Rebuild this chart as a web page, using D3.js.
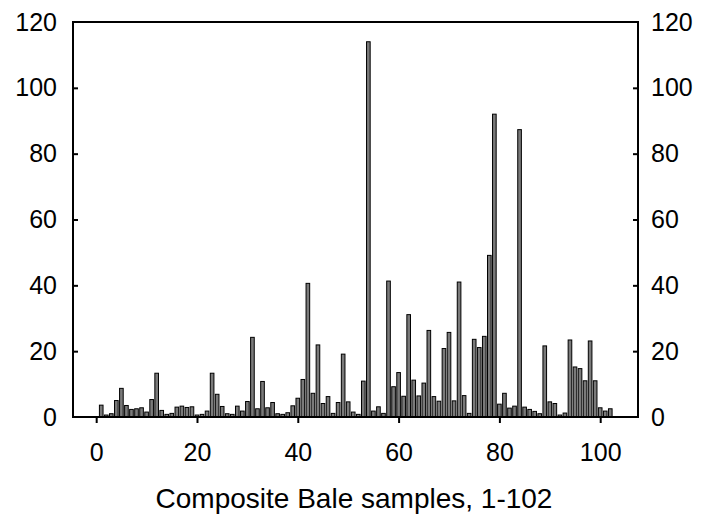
<!DOCTYPE html>
<html><head><meta charset="utf-8">
<script src="https://cdn.jsdelivr.net/npm/d3@7"></script>
<style>body{margin:0;background:#fff}svg{display:block}text{font-family:"Liberation Sans",Arial,sans-serif}</style>
</head><body>
<svg id="c" width="704" height="518"></svg>
<script>
const samples = d3.range(1, 103);
const values = [
 3.6,0.6,1.0,5.0,8.7,3.5,2.3,2.5,2.8,1.5,
 5.3,13.3,2.0,0.8,1.1,3.0,3.3,2.9,3.1,0.6,
 0.8,1.8,13.3,6.9,3.2,1.0,0.8,3.3,1.8,4.7,
 24.2,2.5,10.8,2.8,4.4,1.0,0.8,1.3,3.4,5.7,
 11.4,40.6,7.2,21.9,4.1,6.2,1.1,4.4,19.1,4.6,
 1.5,0.8,10.9,114,1.8,3.1,1.1,41.3,9.2,13.5,
 6.3,31.1,11.2,6.4,10.3,26.3,6.2,4.8,20.8,25.7,
 4.9,41.0,6.5,1.1,23.6,21.1,24.5,49.1,92,3.9,
 7.2,2.7,3.3,87.3,3.0,2.3,1.7,1.0,21.6,4.6,
 4.1,0.6,1.2,23.4,15.2,14.7,11.0,23.1,11.0,2.8,
 1.8,2.5];
const xTicks = [0,20,40,60,80,100];
const yTicks = [0,20,40,60,80,100,120];
const xTitle = "Composite Bale samples, 1-102";

const svg = d3.select("#c");
const L=73, R=638, T=22, B=417;
const x = d3.scaleLinear().domain([-4.6,107.5]).range([L,R]);
const y = d3.scaleLinear().domain([0,120]).range([B,T]);
const bw = (x(1)-x(0))*0.72;

svg.append("g").selectAll("rect").data(samples).join("rect")
  .attr("x", d=>x(d)-bw/2).attr("y", (d,i)=>y(values[i]))
  .attr("width", bw).attr("height", (d,i)=>y(0)-y(values[i]))
  .attr("fill","#7a7a7a").attr("stroke","#000").attr("stroke-width",1);

svg.append("rect").attr("x",L).attr("y",T).attr("width",R-L).attr("height",B-T)
  .attr("fill","none").attr("stroke","#000").attr("stroke-width",2);

const fs = "25px";
const gx = svg.append("g").attr("transform",`translate(0,${B})`)
  .call(d3.axisBottom(x).tickValues(xTicks).tickSize(6).tickPadding(20).tickFormat(d3.format("d")));
const gl = svg.append("g").attr("transform",`translate(${L},0)`)
  .call(d3.axisLeft(y).tickValues(yTicks).tickSize(-5).tickPadding(16).tickFormat(d3.format("d")));
const gr = svg.append("g").attr("transform",`translate(${R},0)`)
  .call(d3.axisRight(y).tickValues(yTicks).tickSize(-5).tickPadding(13).tickFormat(d3.format("d")));
[gx,gl,gr].forEach(g=>{
  g.select(".domain").remove();
  g.selectAll(".tick line").attr("stroke","#000").attr("stroke-width",2);
  g.selectAll(".tick text").attr("fill","#000").style("font-size",fs).style("font-family","'Liberation Sans',Arial,sans-serif");
});
gl.selectAll(".tick").filter(d=>d===0||d===120).select("line").remove();
gr.selectAll(".tick").filter(d=>d===0||d===120).select("line").remove();

svg.append("text").attr("x",354).attr("y",508).attr("text-anchor","middle")
  .style("font-size","28px").attr("fill","#000").text(xTitle);
</script>
</body></html>
